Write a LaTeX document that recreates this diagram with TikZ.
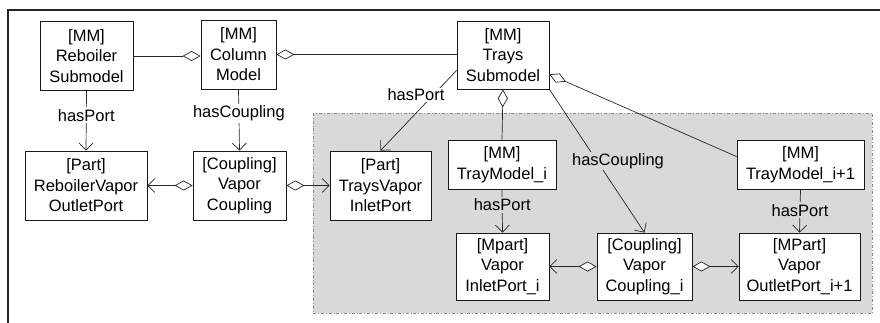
\documentclass[tikz,border=0pt]{standalone}
\usepackage{fontspec}
\setmainfont{Liberation Sans}
\usetikzlibrary{arrows.meta,calc}
\definecolor{regiongray}{HTML}{D9D9D9}
\definecolor{regionedge}{HTML}{8A8A8A}
\tikzset{
  box/.style={draw=black!90, line width=0.8pt, fill=white, align=center, inner sep=0pt,
    font=\fontsize{16.5}{20.5}\selectfont},
  lbl/.style={font=\fontsize{16.5}{20}\selectfont, inner sep=2pt},
  conn/.style={draw=black!85, line width=0.7pt},
  agg/.style={conn, {Diamond[length=18pt,width=10pt,fill=white,line width=0.7pt]}-},
  aggto/.style={conn, {Diamond[length=18pt,width=10pt,fill=white,line width=0.7pt]}-{Straight Barb[length=7pt,width=14pt,line width=0.7pt]}},
  rel/.style={conn, -{Straight Barb[length=7pt,width=14pt,line width=0.7pt]}}
}
\begin{document}
\begin{tikzpicture}[x=1pt,y=-1pt]
\useasboundingbox (0,0) rectangle (880,323);
% outer frame (top and left visible)
\draw[line width=1.1pt, black!85] (8,323) -- (8,10) -- (880,10);
% gray region
\draw[fill=regiongray, draw=regionedge, line width=0.7pt, dash dot] (313,113) rectangle (872,313);

% nodes
\node[box, minimum width=93pt, minimum height=69pt] (reb) at (86.5,56) {[MM]\\Reboiler\\Submodel};
\node[box, minimum width=75pt, minimum height=69pt] (col) at (238.5,54.5) {[MM]\\Column\\Model};
\node[box, minimum width=92pt, minimum height=68pt] (trays) at (503,55) {[MM]\\Trays\\Submodel};
\node[box, minimum width=122pt, minimum height=69pt] (rvop) at (86,185.5) {[Part]\\ReboilerVapor\\OutletPort};
\node[box, minimum width=93pt, minimum height=69pt] (vc) at (239.5,185.5) {[Coupling]\\Vapor\\Coupling};
\node[box, minimum width=101pt, minimum height=69pt] (tvip) at (380.5,185.5) {[Part]\\TraysVapor\\InletPort};
\node[box, minimum width=108pt, minimum height=49pt] (tmi) at (502,164.5) {[MM]\\TrayModel\_i};
\node[box, minimum width=127pt, minimum height=49pt] (tmj) at (800.5,164.5) {[MM]\\TrayModel\_i+1};
\node[box, minimum width=93pt, minimum height=67pt] (vipi) at (502.5,266.5) {[Mpart]\\Vapor\\InletPort\_i};
\node[box, minimum width=95pt, minimum height=67pt] (vci) at (644.5,266.5) {[Coupling]\\Vapor\\Coupling\_i};
\node[box, minimum width=121pt, minimum height=67pt] (vop) at (799.5,266.5) {[MPart]\\Vapor\\OutletPort\_i+1};

% aggregation links
\draw[agg] (reb.east -| col.west) -- (reb.east);
\draw[agg] (col.east) -- (col.east -| trays.west);
\draw[agg] (trays.south) -- (tmi.north);
\coordinate (tjs) at ($(trays.south east)+(0,-15)$);
\coordinate (tje) at ($(tmj.north west)+(0,17)$);
\draw[agg] (tjs) -- (tje);

% coupling links
\draw[aggto] (vc.west) -- (rvop.east);
\draw[aggto] (vc.east) -- (tvip.west);
\draw[aggto] (vci.west) -- (vipi.east);
\draw[aggto] (vci.east) -- (vop.west);

% labelled relations
\draw[rel] (reb.south) -- node[lbl, fill=white, pos=0.41] (l1) {hasPort} (rvop.north);
\draw[rel] (col.south) -- node[lbl, fill=white, pos=0.39] (l2) {hasCoupling} (vc.north);
\draw[rel] (tmi.south) -- node[lbl, fill=regiongray, pos=0.36] (l3) {hasPort} (vipi.north);
\draw[rel] (tmj.south) -- node[lbl, fill=regiongray, pos=0.48] (l4) {hasPort} (vop.north);

\coordinate (tps) at ($(trays.south west)+(0,-19)$);
\draw[rel] (tps) -- (tvip.north);
\node[lbl, fill=white, inner sep=1pt] (l5) at (416,95) {hasPort};
\draw[rel] (trays.south east) -- (vci.north);
\node[lbl, fill=regiongray, inner sep=1pt] (l6) at (618,161) {hasCoupling};
\end{tikzpicture}
\end{document}
